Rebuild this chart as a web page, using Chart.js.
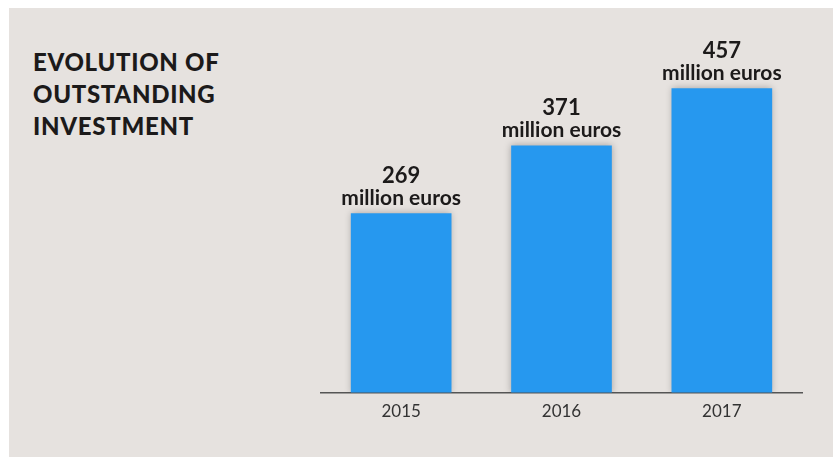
<!DOCTYPE html>
<html>
<head>
<meta charset="utf-8">
<script src="https://cdn.jsdelivr.net/npm/chart.js@4"></script>
<style>
  html, body { margin: 0; padding: 0; background: #ffffff; }
  #panel { position: absolute; left: 9px; top: 8px; width: 824px; height: 449px; background: #e6e2df; }
  #wrap { position: absolute; left: 0; top: 0; width: 833px; height: 457px; }
  h1 {
    position: absolute; left: 33px; top: 46px; margin: 0;
    font: 900 24px/32px Lato, sans-serif; color: #1c1a1a; letter-spacing: 0.7px;
  }
</style>
</head>
<body>
<div id="panel"></div>
<h1>EVOLUTION OF<br>OUTSTANDING<br>INVESTMENT</h1>
<div id="wrap"><canvas id="investChart"></canvas></div>
<script>
const years = ['2015', '2016', '2017'];
const outstanding = [269, 371, 457];
const unitLabel = 'million euros';

// soft grey glow around the bars
const barShadow = {
  id: 'barShadow',
  beforeDatasetsDraw(chart) {
    const ctx = chart.ctx;
    ctx.save();
    ctx.shadowColor = 'rgba(0,0,0,0.28)';
    ctx.shadowBlur = 7;
  },
  afterDatasetsDraw(chart) {
    chart.ctx.restore();
  }
};

// value + unit written above each bar
const valueLabels = {
  id: 'valueLabels',
  afterDatasetsDraw(chart) {
    const ctx = chart.ctx;
    const meta = chart.getDatasetMeta(0);
    ctx.save();
    ctx.fillStyle = '#1c1a1a';
    ctx.textAlign = 'center';
    ctx.textBaseline = 'alphabetic';
    meta.data.forEach((bar, i) => {
      ctx.font = 'bold 22px Lato, sans-serif';
      ctx.fillText(String(outstanding[i]), bar.x, bar.y - 31);
      ctx.font = 'bold 21px Lato, sans-serif';
      ctx.fillText(unitLabel, bar.x, bar.y - 9);
    });
    ctx.restore();
  }
};

new Chart(document.getElementById('investChart'), {
  type: 'bar',
  data: {
    labels: years,
    datasets: [{
      data: outstanding,
      backgroundColor: '#2698ef',
      barThickness: 100
    }]
  },
  options: {
    responsive: true,
    maintainAspectRatio: false,
    animation: false,
    layout: { padding: { left: 321, right: 31, top: 18, bottom: 26 } },
    plugins: {
      legend: { display: false },
      tooltip: { enabled: false }
    },
    scales: {
      x: {
        grid: { display: false, drawTicks: false },
        border: { display: true, color: '#555555', width: 1.5 },
        ticks: { color: '#333333', padding: 9, font: { family: 'Lato', size: 17 } }
      },
      y: {
        display: false,
        min: 0,
        max: 563
      }
    }
  },
  plugins: [barShadow, valueLabels]
});
</script>
</body>
</html>
